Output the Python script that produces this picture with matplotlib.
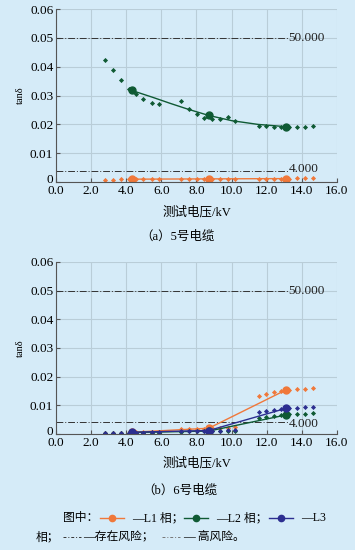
import matplotlib
matplotlib.use("Agg")
import matplotlib.pyplot as plt
from matplotlib.lines import Line2D
from matplotlib.transforms import ScaledTranslation


plt.rcParams["font.family"] = ["Liberation Serif", "Noto Sans CJK SC"]
plt.rcParams["axes.unicode_minus"] = False

BG = "#d5ebf8"
GRID = "#b9cdd8"
ORANGE = "#f0783a"
GREEN = "#0f5a34"
BLUE = "#2c2e90"

# test voltages (kV) of the individual points
volts = [2.8, 3.25, 3.7, 4.13, 4.26, 4.56, 4.98, 5.46, 5.89, 7.13, 7.59, 8.02,
         8.44, 8.88, 9.32, 9.77, 10.21, 11.54, 11.98, 12.40, 12.83, 13.27,
         13.73, 14.16, 14.62]
# voltages of the three step averages
step_volts = [4.33, 8.7, 13.08]

# cable 5
a_l1 = [0.0008, 0.0008, 0.0009, 0.0010, 0.0010, 0.0010, 0.0010, 0.0010, 0.0010,
        0.0010, 0.0010, 0.0010, 0.0011, 0.0011, 0.0011, 0.0011, 0.0011, 0.0012,
        0.0012, 0.0012, 0.0012, 0.0012, 0.0013, 0.0013, 0.0013]
a_l1_step = [0.0010, 0.0011, 0.0012]
a_l2 = [0.0423, 0.0388, 0.0353, 0.0324, 0.0320, 0.0305, 0.0287, 0.0273, 0.0270,
        0.0281, 0.0252, 0.0235, 0.0223, 0.0219, 0.0218, 0.0225, 0.0211, 0.0193,
        0.0193, 0.0192, 0.0191, 0.0190, 0.0190, 0.0192, 0.0193]
a_l2_step = [0.0318, 0.0231, 0.0192]
# trend curve of L2, cable 5
a_l2_fit_x = [4.3, 5.5, 6.5, 7.5, 8.7, 10.0, 11.5, 13.1]
a_l2_fit_y = [0.0318, 0.0294, 0.0273, 0.0253, 0.0231, 0.0213, 0.0200, 0.0192]

# cable 6
b_l1 = [0.0005, 0.0005, 0.0005, 0.0005, 0.0006, 0.0006, 0.0006, 0.0007, 0.0007,
        0.0017, 0.0018, 0.0018, 0.0019, 0.0020, 0.0021, 0.0022, 0.0023, 0.0133,
        0.0141, 0.0145, 0.0150, 0.0153, 0.0156, 0.0158, 0.0161]
b_l1_step = [0.0006, 0.0020, 0.0153]
b_l2 = [0.0004, 0.0004, 0.0004, 0.0004, 0.0004, 0.0004, 0.0005, 0.0005, 0.0005,
        0.0008, 0.0009, 0.0009, 0.0010, 0.0010, 0.0010, 0.0011, 0.0011, 0.0054,
        0.0060, 0.0064, 0.0066, 0.0068, 0.0069, 0.0069, 0.0072]
b_l2_step = [0.0005, 0.0010, 0.0066]
b_l3 = [0.0005, 0.0005, 0.0005, 0.0005, 0.0005, 0.0005, 0.0005, 0.0006, 0.0006,
        0.0010, 0.0011, 0.0011, 0.0012, 0.0012, 0.0012, 0.0013, 0.0013, 0.0075,
        0.0080, 0.0083, 0.0087, 0.0089, 0.0091, 0.0093, 0.0095]
b_l3_step = [0.0006, 0.0012, 0.0089]

risk_levels = [0.004, 0.05]
risk_labels = ["4.000", "50.000"]
x_ticks = [0, 2, 4, 6, 8, 10, 12, 14, 16]
y_ticks = [0, 0.01, 0.02, 0.03, 0.04, 0.05, 0.06]
y_tick_labels = ["0", "0.01", "0.02", "0.03", "0.04", "0.05", "0.06"]


def style_axes(ax, fig):
    ax.set_facecolor(BG)
    ax.set_xlim(0, 16)
    ax.set_ylim(0, 0.06)
    ax.set_xticks(x_ticks)
    ax.set_xticklabels([f"{v:.1f}" for v in x_ticks])
    ax.set_yticks(y_ticks)
    ax.set_yticklabels(y_tick_labels)
    ax.grid(True, color=GRID, linewidth=0.8)
    ax.set_axisbelow(True)
    for side in ("top", "right"):
        ax.spines[side].set_visible(False)
    for side in ("left", "bottom"):
        ax.spines[side].set_color("#555555")
        ax.spines[side].set_linewidth(0.8)
    ax.tick_params(direction="in", length=3, width=0.8, color="#555555",
                   labelsize=9.5, pad=2)
    # nudge the "0" up a little so it clears the "0.0" below it
    zero = ax.get_yticklabels()[0]
    zero.set_transform(zero.get_transform()
                       + ScaledTranslation(0, 2.5 / 72, fig.dpi_scale_trans))
    ax.set_ylabel("tanδ", fontsize=7.5, labelpad=4)


def draw_risk(ax, label_offsets):
    for level, label, dy in zip(risk_levels, risk_labels, label_offsets):
        ax.plot([0, 13.2], [level, level], color="#333333", linewidth=0.7,
                linestyle=(0, (7, 2, 1, 2)))
        ax.text(13.25, level + dy, label, fontsize=9.5, va="center", ha="left",
                color="#222222")


def draw_phase(ax, y, step_y, color, line_x=None, line_y=None):
    ax.plot(volts, y, linestyle="none", marker="D", markersize=2.6,
            color=color, markeredgewidth=0)
    if line_x is None:
        line_x, line_y = step_volts, step_y
    ax.plot(line_x, line_y, color=color, linewidth=1.0)
    ax.plot(step_volts, step_y, linestyle="none", marker="o", markersize=5,
            color=color)


fig = plt.figure(figsize=(3.55, 5.5), dpi=100)
fig.patch.set_facecolor(BG)

ax_a = fig.add_axes([0.158, 0.669, 0.791, 0.3145])
style_axes(ax_a, fig)
draw_risk(ax_a, [0.0006, -0.0002])
draw_phase(ax_a, a_l1, a_l1_step, ORANGE)
draw_phase(ax_a, a_l2, a_l2_step, GREEN, a_l2_fit_x, a_l2_fit_y)

ax_b = fig.add_axes([0.158, 0.211, 0.791, 0.3127])
style_axes(ax_b, fig)
draw_risk(ax_b, [-0.0006, -0.0002])
draw_phase(ax_b, b_l1, b_l1_step, ORANGE)
draw_phase(ax_b, b_l2, b_l2_step, GREEN)
draw_phase(ax_b, b_l3, b_l3_step, BLUE)


def px(x, y):
    return x / 355, 1 - y / 550


fig.text(*px(197, 212), "测试电压/kV", ha="center", va="center", fontsize=9)
fig.text(*px(177, 237), "（a）5号电缆", ha="center", va="center", fontsize=9)
fig.text(*px(197, 463), "测试电压/kV", ha="center", va="center", fontsize=9)
fig.text(*px(180, 491), "（b）6号电缆", ha="center", va="center", fontsize=9)

# legend rows drawn by hand
fs = 8.5
fig.text(*px(63, 518), "图中：", ha="left", va="center", fontsize=fs)
for x0, color in ((100, ORANGE), (184, GREEN), (269, BLUE)):
    xa, ya = px(x0, 518)
    xb, _ = px(x0 + 24, 518)
    xm, _ = px(x0 + 12, 518)
    fig.add_artist(Line2D([xa, xb], [ya, ya], color=color, linewidth=1.0,
                          transform=fig.transFigure))
    fig.add_artist(Line2D([xm], [ya], color=color, marker="o", markersize=4.5,
                          transform=fig.transFigure))
fig.text(*px(132, 518), "—L1 相；", ha="left", va="center", fontsize=fs)
fig.text(*px(216, 518), "—L2 相；", ha="left", va="center", fontsize=fs)
fig.text(*px(301, 518), "—L3", ha="left", va="center", fontsize=fs)

fig.text(*px(36, 537), "相；", ha="left", va="center", fontsize=fs)
for x0, color in ((63, "#333333"), (162, "#777777")):
    xa, ya = px(x0, 537)
    xb, _ = px(x0 + 18, 537)
    fig.add_artist(Line2D([xa, xb], [ya, ya], color=color, linewidth=0.7,
                          linestyle=(0, (3, 2, 1, 2)),
                          transform=fig.transFigure))
fig.text(*px(83, 537), "—存在风险；", ha="left", va="center", fontsize=fs)
fig.text(*px(183, 537), "— 高风险。", ha="left", va="center", fontsize=fs)

fig.savefig("out.png", dpi=100, facecolor=BG)
